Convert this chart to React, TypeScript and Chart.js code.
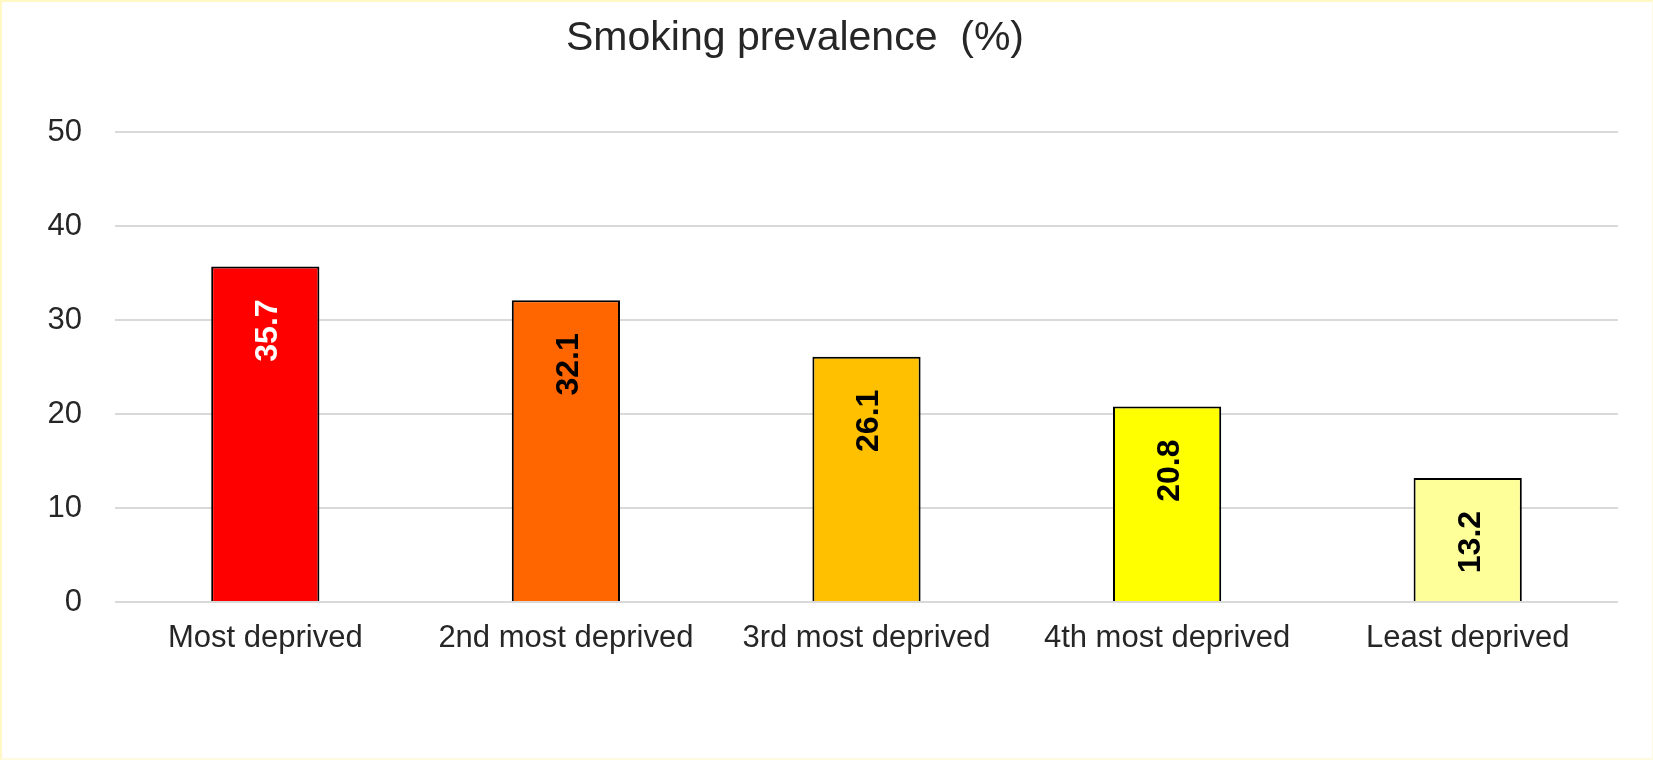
import React, { useEffect, useRef } from "react";
import { Chart, registerables } from "chart.js";

Chart.register(...registerables);

// Smoking prevalence by deprivation quintile
const categories = [
  "Most deprived",
  "2nd most deprived",
  "3rd most deprived",
  "4th most deprived",
  "Least deprived",
];
const prevalence = [35.7, 32.1, 26.1, 20.8, 13.2];
const barColors = ["#ff0000", "#ff6600", "#ffc000", "#ffff00", "#ffff99"];
const valueLabelColors = ["#ffffff", "#000000", "#000000", "#000000", "#000000"];
const yAxisMin = 0;
const yAxisMax = 50;
const yAxisStep = 10;
const chartTitle = "Smoking prevalence  (%)";

const FONT = "'Liberation Sans', Arial, sans-serif";
const TEXT = "#262626";

// Rotated value labels placed just inside the top of each bar
const valueLabelPlugin = {
  id: "valueLabels",
  afterDatasetsDraw(chart: any) {
    const meta = chart.getDatasetMeta(0);
    const ctx = chart.ctx;
    ctx.save();
    ctx.font = `bold 32px ${FONT}`;
    ctx.textAlign = "right";
    ctx.textBaseline = "middle";
    meta.data.forEach((bar: any, i: number) => {
      ctx.save();
      ctx.translate(bar.x + 3, bar.y + 33);
      ctx.rotate(-Math.PI / 2);
      ctx.fillStyle = valueLabelColors[i];
      ctx.fillText(prevalence[i].toFixed(1), 0, 0);
      ctx.restore();
    });
    ctx.restore();
  },
};

// Heading drawn above the plot
const headingPlugin = {
  id: "heading",
  afterDraw(chart: any) {
    const ctx = chart.ctx;
    ctx.save();
    ctx.font = `41px ${FONT}`;
    ctx.fillStyle = TEXT;
    ctx.textAlign = "center";
    ctx.textBaseline = "alphabetic";
    ctx.fillText(chartTitle, 795, 50);
    ctx.restore();
  },
};

export default function App() {
  const canvasRef = useRef<HTMLCanvasElement | null>(null);

  useEffect(() => {
    document.body.style.margin = "0";
    const canvas = canvasRef.current;
    if (!canvas) return;
    const chart = new Chart(canvas, {
      type: "bar",
      data: {
        labels: categories,
        datasets: [
          {
            data: prevalence,
            backgroundColor: barColors,
            borderColor: "#000000",
            borderWidth: 2,
            barPercentage: 0.36,
            categoryPercentage: 1,
          },
        ],
      },
      options: {
        responsive: false,
        animation: false,
        layout: { padding: { top: 132, right: 35, bottom: 58, left: 0 } },
        plugins: {
          legend: { display: false },
          title: { display: false },
          tooltip: { enabled: false },
        },
        scales: {
          x: {
            grid: { display: false, drawTicks: false },
            border: { display: false },
            ticks: {
              font: { family: FONT, size: 31 },
              color: TEXT,
              padding: 18,
              maxRotation: 0,
              autoSkip: false,
            },
            afterFit(scale: any) {
              scale.height = 100;
            },
          },
          y: {
            min: yAxisMin,
            max: yAxisMax,
            grid: { color: "#d9d9d9", lineWidth: 2, drawTicks: false },
            border: { display: false },
            ticks: {
              stepSize: yAxisStep,
              font: { family: FONT, size: 31 },
              color: TEXT,
              padding: 33,
            },
            afterFit(scale: any) {
              scale.width = 115;
            },
          },
        },
      },
      plugins: [valueLabelPlugin, headingPlugin],
    });
    return () => chart.destroy();
  }, []);

  return (
    <div style={{ position: "relative", width: 1653, height: 760, background: "#ffffff" }}>
      <canvas ref={canvasRef} width={1653} height={760} style={{ display: "block" }} />
      <div
        style={{
          position: "absolute",
          inset: 0,
          borderLeft: "2px solid #fff8c4",
          borderTop: "2px solid #fff8c4",
          borderBottom: "2px solid #fffbe0",
          borderRight: "1px solid #fffbe0",
          pointerEvents: "none",
          boxSizing: "border-box",
        }}
      />
    </div>
  );
}
